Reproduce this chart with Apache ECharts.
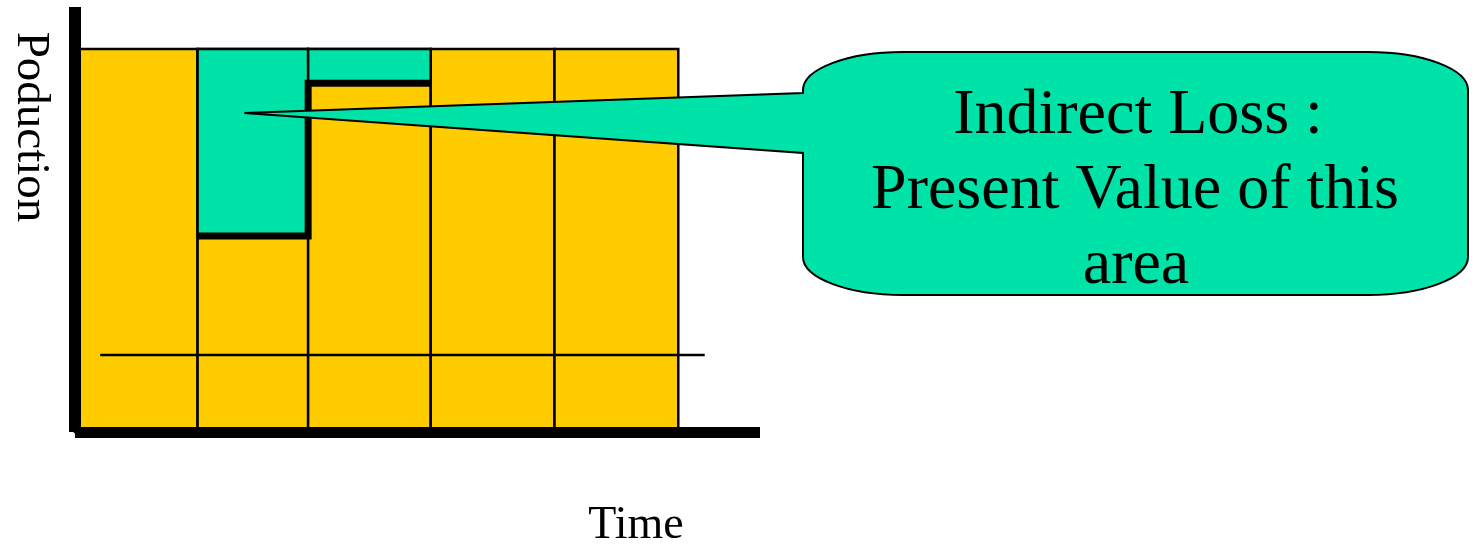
<!DOCTYPE html>
<html>
<head>
<meta charset="utf-8">
<script src="https://cdn.jsdelivr.net/npm/echarts@6/dist/echarts.min.js"></script>
<style>
html,body{margin:0;padding:0;background:#fff;}
#chart{width:1475px;height:545px;}
</style>
</head>
<body>
<div id="chart"></div>
<script>
// ---- data ----
const periodEdges = [0, 1.02, 1.94, 2.96, 3.99, 5.02];   // time boundaries of the periods
const fullProduction = 100;                               // normal production level
const lossStart = [1.02, 1.94];                           // periods with reduced production
const lossEnd = [1.94, 2.96];
const reducedProduction = [51.2, 91.1];                   // production level in those periods
const prodPathX = [1.02, 1.94, 1.94, 2.96];               // thick production step line
const prodPathY = [51.2, 51.2, 91.1, 91.1];
const baseLineX = [0.21, 5.24];                           // thin horizontal reference line
const baseLineY = [20.1, 20.1];
const calloutTip = [1.41, 83.3];
const calloutLines = ['Indirect Loss :', 'Present Value of this', 'area'];
const xTitle = 'Time';
const yTitle = 'Poduction';

const YELLOW = '#FFCC00';
const GREEN = '#00E3A8';
const SERIF = '"Liberation Serif", "Times New Roman", serif';

const yellowData = [];
for (let i = 0; i < periodEdges.length - 1; i++) {
  yellowData.push([periodEdges[i], periodEdges[i + 1], 0, fullProduction]);
}
const greenData = lossStart.map((s, i) => [s, lossEnd[i], reducedProduction[i], fullProduction]);

function rectItem(color) {
  return function (params, api) {
    const p0 = api.coord([api.value(0), api.value(2)]);
    const p1 = api.coord([api.value(1), api.value(3)]);
    return {
      type: 'rect',
      shape: { x: p0[0], y: p1[1], width: p1[0] - p0[0], height: p0[1] - p1[1] },
      style: { fill: color, stroke: '#000', lineWidth: 2.5 }
    };
  };
}

function textEl(str, x, y, size, extra) {
  return Object.assign({
    type: 'text', x: x, y: y, z: 30,
    style: { text: str, fill: '#000', font: size + 'px ' + SERIF, fontSize: size, fontFamily: SERIF,
             align: 'center', verticalAlign: 'middle', textAlign: 'center', textVerticalAlign: 'middle' }
  }, extra || {});
}

const chart = echarts.init(document.getElementById('chart'), null, { renderer: 'canvas' });

const option = {
  animation: false,
  backgroundColor: '#fff',
  grid: { left: 75, right: 715, top: 7, bottom: 113, containLabel: false },
  xAxis: {
    type: 'value', min: 0, max: 5.7, z: 10,
    axisLine: { show: true, lineStyle: { color: '#000', width: 11, cap: 'butt' } },
    axisTick: { show: false }, axisLabel: { show: false }, splitLine: { show: false }
  },
  yAxis: {
    type: 'value', min: 0, max: 111, z: 10,
    axisLine: { show: true, lineStyle: { color: '#000', width: 12, cap: 'butt' } },
    axisTick: { show: false }, axisLabel: { show: false }, splitLine: { show: false }
  },
  series: [
    {
      type: 'custom', name: 'production', z: 1, clip: false,
      renderItem: rectItem(YELLOW),
      encode: { x: [0, 1], y: [2, 3] },
      data: yellowData
    },
    {
      type: 'custom', name: 'loss', z: 2, clip: false,
      renderItem: rectItem(GREEN),
      encode: { x: [0, 1], y: [2, 3] },
      data: greenData
    },
    {
      type: 'line', name: 'base', z: 3, symbol: 'none', silent: true,
      lineStyle: { color: '#000', width: 2.5, cap: 'butt' },
      data: baseLineX.map((x, i) => [x, baseLineY[i]])
    },
    {
      type: 'line', name: 'actual', z: 4, symbol: 'none', silent: true,
      lineStyle: { color: '#000', width: 7, join: 'miter', cap: 'butt' },
      data: prodPathX.map((x, i) => [x, prodPathY[i]])
    },
    {
      type: 'custom', name: 'callout', z: 20, clip: false,
      data: [calloutTip],
      renderItem: function (params, api) {
        const tip = api.coord([api.value(0), api.value(1)]);
        const L = 803, T = 52, R = 1468, B = 295, rx = 100, ry = 38, k = 0.5523;
        const y1 = 93, y2 = 153;
        const d = [
          'M', tip[0], tip[1],
          'L', L, y2,
          'L', L, B - ry,
          'C', L, B - ry + k * ry, L + rx - k * rx, B, L + rx, B,
          'L', R - rx, B,
          'C', R - rx + k * rx, B, R, B - ry + k * ry, R, B - ry,
          'L', R, T + ry,
          'C', R, T + ry - k * ry, R - rx + k * rx, T, R - rx, T,
          'L', L + rx, T,
          'C', L + rx - k * rx, T, L, T + ry - k * ry, L, T + ry,
          'L', L, y1,
          'Z'
        ].join(' ');
        return {
          type: 'path',
          shape: { pathData: d },
          style: { fill: GREEN, stroke: '#000', lineWidth: 2, lineJoin: 'miter' }
        };
      }
    }
  ],
  graphic: {
    elements: [
      textEl(calloutLines[0], 1138, 116, 64),
      textEl(calloutLines[1], 1135, 191, 64),
      textEl(calloutLines[2], 1136, 266, 64),
      textEl(xTitle, 636, 526, 46),
      textEl(yTitle, 30, 127, 47, { rotation: -Math.PI / 2 })
    ]
  }
};
chart.setOption(option);
</script>
</body>
</html>
